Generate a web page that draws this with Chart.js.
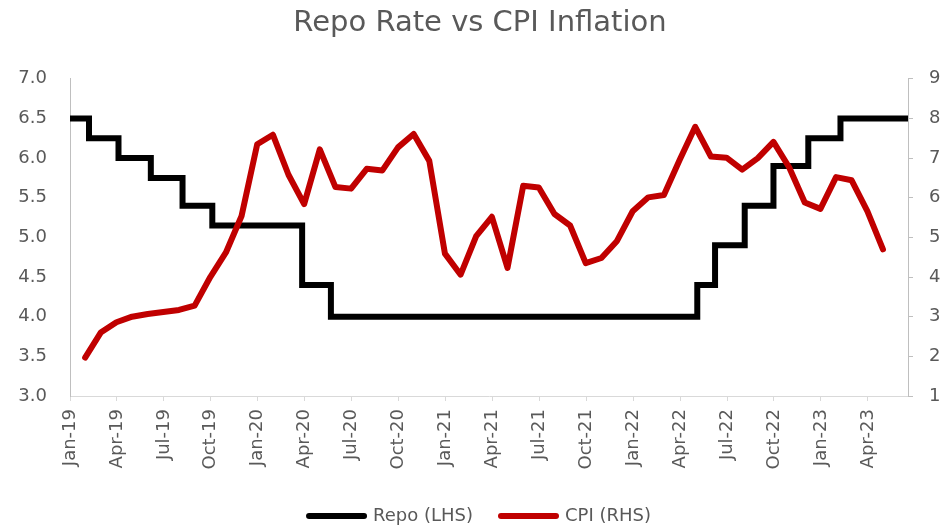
<!DOCTYPE html>
<html>
<head>
<meta charset="utf-8">
<script src="https://cdn.jsdelivr.net/npm/chart.js@4.4.0/dist/chart.umd.min.js"></script>
<style>
html, body { margin: 0; padding: 0; background: #fff; overflow: hidden; }
#wrap { width: 960px; height: 528px; }
</style>
</head>
<body>
<div id="wrap"><canvas id="chart" width="960" height="528"></canvas></div>
<script>
// x axis tick labels, one every 3 months from Jan-19
var tickLabels = ['Jan-19', 'Apr-19', 'Jul-19', 'Oct-19', 'Jan-20', 'Apr-20', 'Jul-20', 'Oct-20',
  'Jan-21', 'Apr-21', 'Jul-21', 'Oct-21', 'Jan-22', 'Apr-22', 'Jul-22', 'Oct-22', 'Jan-23', 'Apr-23'];

// CPI inflation (%), monthly Jan-2019 .. Apr-2023, plotted at month end
var cpiValues = [
  1.97, 2.60, 2.86, 3.00, 3.07, 3.12, 3.17, 3.28, 4.00, 4.62, 5.54, 7.35,
  7.59, 6.58, 5.84, 7.22, 6.27, 6.23, 6.73, 6.69, 7.27, 7.61, 6.93, 4.59,
  4.06, 5.03, 5.52, 4.23, 6.30, 6.26, 5.59, 5.30, 4.35, 4.48, 4.91, 5.66,
  6.01, 6.07, 6.95, 7.79, 7.04, 7.01, 6.71, 7.00, 7.41, 6.77, 5.88, 5.72,
  6.52, 6.44, 5.66, 4.70
];

// repo rate (%) and the dates it changed
var repoDates = ['2019-01-01', '2019-02-07', '2019-04-04', '2019-06-06', '2019-08-07', '2019-10-04',
  '2020-03-27', '2020-05-22', '2022-05-04', '2022-06-08', '2022-08-05', '2022-09-30',
  '2022-12-07', '2023-02-08', '2023-06-18'];
var repoValues = [6.50, 6.25, 6.00, 5.75, 5.40, 5.15, 4.40, 4.00, 4.40, 4.90, 5.40, 5.90, 6.25, 6.50, 6.50];

// months since 1 Jan 2019, with the fraction of the month
function monthPos(s) {
  var p = s.split('-');
  var y = +p[0], m = +p[1], d = +p[2];
  var dim = new Date(y, m, 0).getDate();
  return (y - 2019) * 12 + (m - 1) + (d - 1) / dim;
}

var repoPoints = repoDates.map(function (d, i) { return { x: monthPos(d), y: repoValues[i] }; });
var cpiPoints = cpiValues.map(function (v, i) {
  var y = 2019 + Math.floor(i / 12), m = i % 12 + 1;
  var dim = new Date(y, m, 0).getDate();
  return { x: i + (dim - 1) / dim, y: v };
});

Chart.defaults.font.family = 'DejaVu Sans';
Chart.defaults.color = '#595959';

var ctx = document.getElementById('chart').getContext('2d');
var chart = new Chart(ctx, {
  type: 'line',
  data: {
    datasets: [{
      label: 'Repo (LHS)',
      data: repoPoints,
      yAxisID: 'y',
      borderColor: '#000000',
      backgroundColor: '#000000',
      borderWidth: 6,
      stepped: true,
      pointRadius: 0,
      order: 1
    }, {
      label: 'CPI (RHS)',
      data: cpiPoints,
      yAxisID: 'y2',
      borderColor: '#C00000',
      backgroundColor: '#C00000',
      borderWidth: 6,
      borderCapStyle: 'round',
      borderJoinStyle: 'round',
      pointRadius: 0,
      tension: 0,
      order: 0
    }]
  },
  options: {
    responsive: false,
    animation: false,
    devicePixelRatio: 1,
    layout: { padding: { bottom: -7 } },
    plugins: {
      title: {
        display: true,
        text: 'Repo Rate vs CPI Inflation',
        color: '#595959',
        font: { size: 29, weight: 'normal' },
        padding: { top: 6, bottom: 38 }
      },
      legend: {
        position: 'bottom',
        labels: {
          usePointStyle: true,
          pointStyle: 'line',
          pointStyleWidth: 55,
          padding: 28,
          color: '#595959',
          font: { size: 18 },
          generateLabels: function (c) {
            var items = Chart.defaults.plugins.legend.labels.generateLabels(c);
            items.forEach(function (it) { it.lineCap = 'round'; });
            return items.sort(function (a, b) { return a.datasetIndex - b.datasetIndex; });
          }
        }
      },
      tooltip: { enabled: false }
    },
    scales: {
      x: {
        type: 'linear',
        min: 0,
        max: monthPos(repoDates[repoDates.length - 1]),
        afterBuildTicks: function (s) {
          s.ticks = tickLabels.map(function (l, i) { return { value: i * 3 }; });
        },
        afterFit: function (s) { s.height = 83; },
        grid: { drawOnChartArea: false, drawTicks: true, tickLength: 5, color: '#d9d9d9' },
        border: { display: true, color: '#d9d9d9', width: 1 },
        ticks: {
          autoSkip: false,
          minRotation: 90,
          maxRotation: 90,
          padding: 8,
          font: { size: 18 },
          callback: function (v, i) { return tickLabels[i]; }
        }
      },
      y: {
        position: 'left',
        min: 3,
        max: 7,
        afterFit: function (s) { s.width = 70; },
        grid: { drawOnChartArea: false, drawTicks: false },
        border: { display: true, color: '#bfbfbf', width: 1 },
        ticks: {
          stepSize: 0.5,
          padding: 23,
          font: { size: 18 },
          callback: function (v) { return v.toFixed(1); }
        }
      },
      y2: {
        position: 'right',
        min: 1,
        max: 9,
        afterFit: function (s) { s.width = 52; },
        grid: { drawOnChartArea: false, drawTicks: true, tickLength: 5, color: '#bfbfbf' },
        border: { display: true, color: '#bfbfbf', width: 1 },
        ticks: {
          stepSize: 1,
          padding: 16,
          font: { size: 18 },
          callback: function (v) { return v; }
        }
      }
    }
  }
});
</script>
</body>
</html>
